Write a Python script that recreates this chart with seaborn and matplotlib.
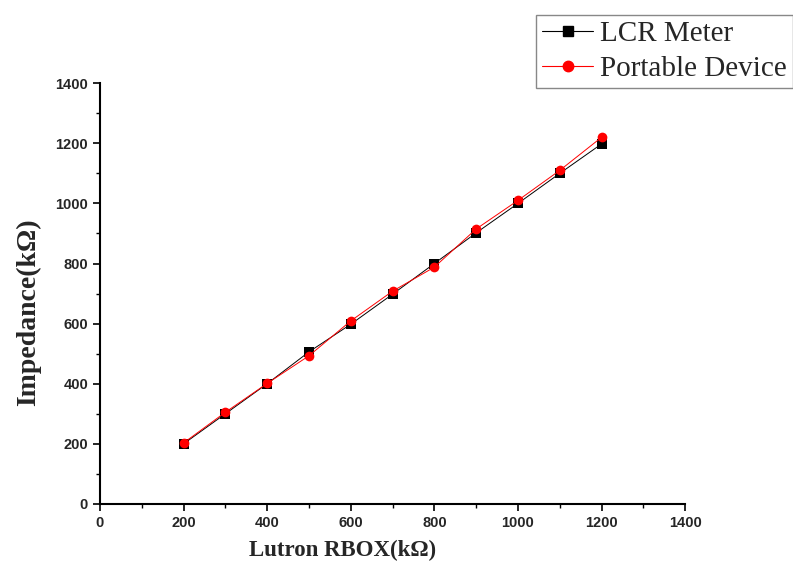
import pandas as pd
import matplotlib
matplotlib.use("Agg")
import matplotlib.pyplot as plt
import seaborn as sns
from matplotlib.ticker import MultipleLocator
from matplotlib.lines import Line2D

# data
rbox = [200, 300, 400, 500, 600, 700, 800, 900, 1000, 1100, 1200]
lcr_meter = [200, 300, 400, 506, 598, 698, 800, 902, 1000, 1100, 1198]
portable = [203, 305, 401, 493, 609, 708, 788, 915, 1010, 1110, 1220]

df = pd.DataFrame({
    "rbox": rbox * 2,
    "impedance": lcr_meter + portable,
    "device": ["LCR Meter"] * len(rbox) + ["Portable Device"] * len(rbox),
})

sns.set_style("ticks")
plt.rcParams["font.family"] = ["Liberation Sans", "DejaVu Sans"]

fig = plt.figure(figsize=(7.93, 5.74), dpi=100)
ax = fig.add_axes([0.126, 0.122, 0.738, 0.733])

sns.lineplot(
    data=df, x="rbox", y="impedance", hue="device", style="device",
    palette={"LCR Meter": "black", "Portable Device": "red"},
    markers={"LCR Meter": "s", "Portable Device": "o"},
    dashes=False, linewidth=0.7, markersize=7, markeredgewidth=0,
    ax=ax, legend=False,
)

ax.set_xlim(0, 1400)
ax.set_ylim(0, 1400)
ax.xaxis.set_major_locator(MultipleLocator(200))
ax.yaxis.set_major_locator(MultipleLocator(200))
ax.xaxis.set_minor_locator(MultipleLocator(100))
ax.yaxis.set_minor_locator(MultipleLocator(100))
ax.tick_params(which="major", direction="out", length=5, width=1.2,
               labelsize=10.5, color="black")
ax.tick_params(which="minor", direction="out", length=3, width=1, color="black")
for lab in ax.get_xticklabels() + ax.get_yticklabels():
    lab.set_fontweight("bold")
sns.despine(ax=ax)
for s in ["left", "bottom"]:
    ax.spines[s].set_linewidth(1.5)
    ax.spines[s].set_color("black")

serif = ["Liberation Serif", "DejaVu Serif"]
ax.set_xlabel("Lutron RBOX(kΩ)", fontsize=16.5, fontweight="bold", family=serif)
ax.set_ylabel("Impedance(kΩ)", fontsize=20, fontweight="bold", family=serif)
ax.xaxis.set_label_coords(0.415, -0.086)
ax.yaxis.set_label_coords(-0.10, 0.455)

handles = [
    Line2D([], [], color="black", marker="s", lw=0.8, markersize=6.5),
    Line2D([], [], color="red", marker="o", lw=0.8, markersize=7.5),
]
leg = fig.legend(handles, ["LCR Meter", "Portable Device"],
                 loc="upper right", bbox_to_anchor=(1.0, 0.974),
                 prop={"family": "Liberation Serif", "size": 21},
                 frameon=True, fancybox=False, framealpha=1,
                 handlelength=1.75, handletextpad=0.25, borderpad=0.2,
                 labelspacing=0.3, borderaxespad=0)
leg.get_frame().set_edgecolor("#888888")
leg.get_frame().set_linewidth(1)

fig.savefig("out.png", dpi=100)
